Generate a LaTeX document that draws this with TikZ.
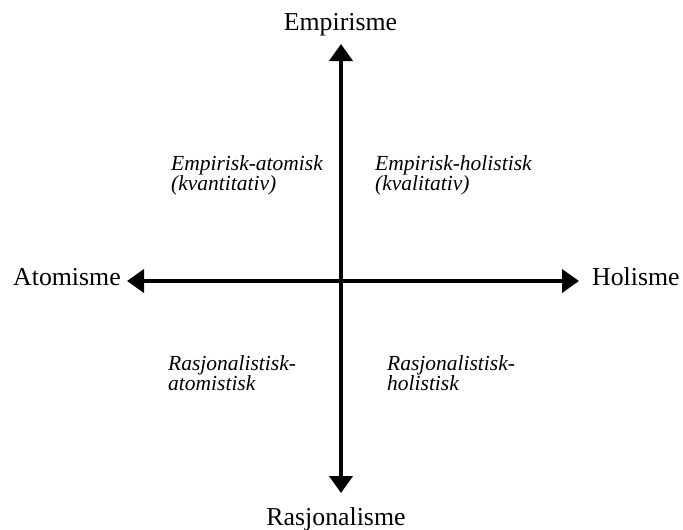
\documentclass[tikz,border=0pt]{standalone}
\usepackage{fontspec}
\setmainfont{Liberation Serif}
\usetikzlibrary{arrows.meta}
\tikzset{
  axis/.style={line width=4pt, {Triangle[length=17pt,width=23pt]}-{Triangle[length=17pt,width=23pt]}},
  polelabel/.style={inner sep=0pt, font=\fontsize{25.8}{29}\selectfont},
  quadlabel/.style={inner sep=0pt, align=left, anchor=base west,
    font=\fontsize{21.5}{20}\selectfont\itshape},
}
\begin{document}
\begin{tikzpicture}[x=1pt,y=-1pt]
  \useasboundingbox (0,0) rectangle (683,530);

  % axis end points
  \coordinate (W) at (127,281);
  \coordinate (E) at (579,281);
  \coordinate (N) at (341,44);
  \coordinate (S) at (341,493);

  % the two axes
  \draw[axis] (W) -- (E);
  \draw[axis] (S) -- (N);

  % pole names
  \node[polelabel, anchor=base] (emp) at (340.5,30) {Empirisme};
  \node[polelabel, anchor=base] (ras) at (336,525) {Rasjonalisme};
  \node[polelabel, anchor=base west] (ato) at (13,285) {Atomisme};
  \node[polelabel, anchor=base west] (hol) at (592,285) {Holisme};

  % quadrant names (anchored at the baseline of the second line)
  \node[quadlabel] (q1) at (171,190) {Empirisk-atomisk\\(kvantitativ)};
  \node[quadlabel] (q2) at (375,190) {Empirisk-holistisk\\(kvalitativ)};
  \node[quadlabel] (q3) at (168,390) {Rasjonalistisk-\\atomistisk};
  \node[quadlabel] (q4) at (387,390) {Rasjonalistisk-\\holistisk};
\end{tikzpicture}
\end{document}
